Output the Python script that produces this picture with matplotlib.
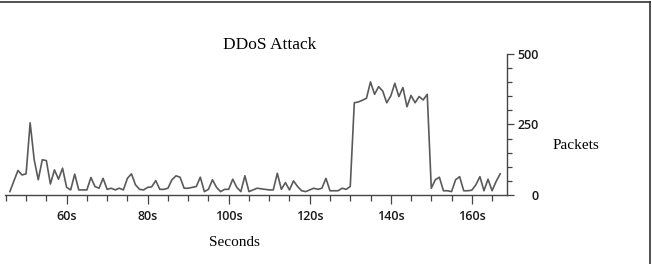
import matplotlib.pyplot as plt
from matplotlib.lines import Line2D
from matplotlib.ticker import MultipleLocator, FuncFormatter

# packets per second, one sample per second from t=46s
seconds = list(range(46, 168))
packets = [12, 50, 87, 71, 75, 256, 125, 54, 125, 122,
           39, 89, 56, 95, 27, 18, 74, 18, 18, 18,
           62, 30, 24, 59, 20, 24, 18, 24, 18, 59,
           75, 36, 20, 18, 27, 29, 51, 20, 20, 24,
           54, 68, 63, 24, 24, 27, 30, 63, 12, 20,
           54, 27, 12, 20, 20, 56, 27, 12, 68, 12,
           18, 24, 22, 20, 18, 18, 77, 20, 44, 18,
           50, 30, 15, 12, 18, 24, 20, 24, 59, 15,
           15, 15, 24, 20, 30, 327, 330, 336, 343, 401,
           357, 384, 369, 327, 351, 396, 349, 381, 313, 353,
           327, 349, 337, 357, 24, 54, 63, 15, 15, 12,
           54, 65, 15, 15, 17, 36, 65, 15, 56, 15,
           48, 75]

x_ticks = [60, 80, 100, 120, 140, 160]
y_ticks = [0, 250, 500]

fig = plt.figure(figsize=(6.52, 2.64), dpi=100)
ax = fig.add_axes([0.0077, 0.2614, 0.77, 0.5341])

ax.plot(seconds, packets, color='#5a5a5a', lw=1.2)

ax.set_xlim(44.8, 168.7)
ax.set_ylim(0, 500)

for s in ['left', 'top']:
    ax.spines[s].set_visible(False)
for s in ['bottom', 'right']:
    ax.spines[s].set_color('#444444')
    ax.spines[s].set_linewidth(1.0)

# x axis
ax.set_xticks(x_ticks)
ax.xaxis.set_minor_locator(MultipleLocator(5))
ax.xaxis.set_major_formatter(FuncFormatter(lambda v, p: '%ds' % v))
ax.tick_params(axis='x', which='major', length=6.5, width=0.9, color='#444444',
               pad=4, labelsize=9, labelcolor='#1a1a1a')
ax.tick_params(axis='x', which='minor', length=4, width=0.9, color='#444444')

# y axis on the right
ax.yaxis.tick_right()
ax.set_yticks(y_ticks)
ax.yaxis.set_minor_locator(MultipleLocator(50))
ax.tick_params(axis='y', which='major', length=5, width=0.9, color='#444444',
               pad=18, labelsize=9, labelcolor='#1a1a1a')
ax.tick_params(axis='y', which='minor', length=3.5, width=0.9, color='#444444')
for lab in ax.get_yticklabels():
    lab.set_fontfamily('Open Sans')
    lab.set_fontweight('semibold')
    lab.set_horizontalalignment('right')
for lab in ax.get_xticklabels():
    lab.set_fontfamily('Open Sans')
    lab.set_fontweight('semibold')

serif = 'Liberation Serif'
fig.text(0.414, 0.83, 'DDoS Attack', family=serif, fontsize=12.5,
         ha='center', va='center')
fig.text(0.883, 0.449, 'Packets', family=serif, fontsize=11,
         ha='center', va='center')
fig.text(0.359, 0.083, 'Seconds', family=serif, fontsize=11,
         ha='center', va='center')

# frame around the picture (top and right edges)
fig.add_artist(Line2D([0, 649.5 / 652], [1 - 1.5 / 264, 1 - 1.5 / 264],
                      transform=fig.transFigure, color='#333333', lw=1.2))
fig.add_artist(Line2D([649.5 / 652, 649.5 / 652], [0, 1 - 1.5 / 264],
                      transform=fig.transFigure, color='#333333', lw=1.2))

fig.savefig('out.png', dpi=100)
